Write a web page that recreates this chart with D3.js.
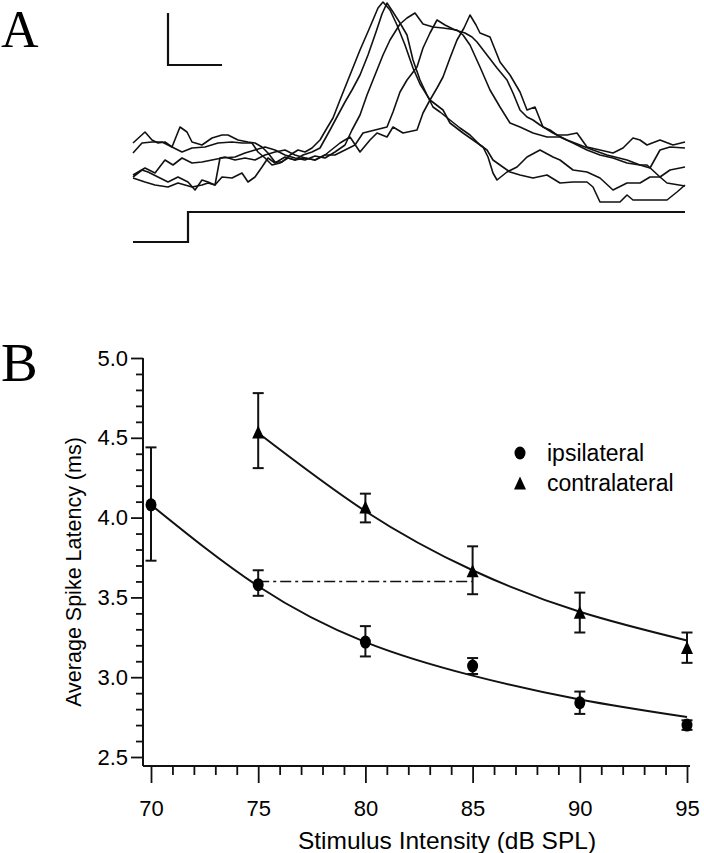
<!DOCTYPE html>
<html><head><meta charset="utf-8">
<script src="https://cdn.jsdelivr.net/npm/d3@7"></script>
<style>
html,body{margin:0;padding:0;background:#fff;}
svg{display:block;}
text{font-family:"Liberation Sans",Arial,sans-serif;fill:#000;}
</style></head>
<body>
<svg id="chart" width="704" height="853"></svg>
<script>
// ---------- Panel B data ----------
const intensities = [70, 75, 80, 85, 90, 95];
const ipsiMean = [4.08, 3.58, 3.22, 3.07, 2.84, 2.70];
const ipsiLow  = [3.73, 3.51, 3.13, 3.02, 2.77, 2.67];
const ipsiHigh = [4.44, 3.67, 3.32, 3.12, 2.91, 2.73];
const contraX    = [75, 80, 85, 90, 95];
const contraMean = [4.53, 4.06, 3.66, 3.40, 3.18];
const contraLow  = [4.31, 3.97, 3.52, 3.28, 3.09];
const contraHigh = [4.78, 4.15, 3.82, 3.53, 3.28];
// fitted curves
const ipsiFitX = [70, 75, 80, 85, 90, 95];
const ipsiFitY = [4.08, 3.57, 3.22, 3.01, 2.86, 2.75];
const contraFitX = [75, 80, 85, 90, 95];
const contraFitY = [4.53, 4.04, 3.67, 3.41, 3.23];
const refLineX = [75, 85];
const refLineY = 3.60;
const yMajor = [2.5, 3.0, 3.5, 4.0, 4.5, 5.0];
const xMajor = [70, 75, 80, 85, 90, 95];
const legendLabels = ["ipsilateral", "contralateral"];

// ---------- Panel A data (time in 0.1 ms units, amplitude arbitrary) ----------
const trace1 = [[0,107],[12,118],[19,110],[25,107],[32,108],[39,103],[47,123],[54,118],[59,108],[69,105],[79,112],[89,115],[95,115],[105,110],[115,108],[122,107],[129,103],[135,97],[142,88],[149,88],[157,95],[165,100],[172,98],[179,102],[187,110],[194,122],[200,132],[207,150],[217,175],[227,200],[237,223],[245,242],[250,248],[257,240],[264,225],[272,205],[280,182],[287,166],[297,150],[310,140],[317,127],[330,117],[340,110],[350,103],[355,93],[360,77],[364,70],[374,78],[384,83],[394,93],[407,100],[420,93],[427,90],[440,80],[454,78],[467,72],[480,60],[494,67],[507,67],[517,73],[527,73],[534,67],[552,64]];
const trace2 = [[0,97],[9,107],[19,108],[29,108],[39,103],[49,98],[59,102],[72,103],[85,107],[99,108],[109,107],[119,107],[125,98],[132,92],[139,85],[147,87],[155,92],[162,90],[170,95],[179,98],[187,102],[197,120],[205,135],[212,148],[219,160],[227,175],[235,195],[243,218],[249,236],[254,247],[260,238],[267,227],[274,215],[280,190],[287,170],[294,155],[300,143],[307,138],[317,130],[327,122],[337,115],[347,105],[354,100],[360,90],[367,85],[377,78],[387,75],[400,72],[414,75],[427,67],[440,68],[454,68],[460,63],[467,48],[487,48],[494,55],[500,50],[520,50],[534,50],[544,58],[552,65]];
const trace3 = [[0,75],[12,82],[22,77],[32,90],[40,85],[49,92],[59,87],[69,88],[79,90],[89,92],[102,93],[112,97],[122,100],[132,103],[142,100],[152,95],[162,92],[172,90],[182,94],[192,92],[202,98],[212,105],[219,120],[227,135],[234,155],[242,175],[250,195],[257,210],[267,226],[274,232],[282,237],[290,226],[300,223],[310,222],[324,220],[330,215],[337,205],[347,183],[357,160],[367,143],[377,127],[387,123],[400,117],[414,113],[427,113],[440,107],[454,100],[467,95],[480,92],[494,87],[507,85],[517,82],[527,100],[537,103],[552,102]];
const trace4 = [[0,73],[9,80],[15,78],[25,73],[35,68],[45,73],[55,68],[62,60],[69,70],[75,68],[82,65],[87,92],[92,93],[102,90],[112,92],[122,90],[132,95],[142,98],[152,100],[162,95],[172,92],[182,90],[192,95],[202,95],[212,100],[222,105],[230,117],[242,120],[254,123],[260,138],[267,158],[274,170],[284,183],[290,202],[297,217],[304,230],[312,225],[322,220],[332,217],[339,213],[344,208],[354,195],[364,182],[374,170],[380,157],[387,140],[394,133],[400,130],[407,125],[420,117],[434,110],[447,105],[460,100],[474,95],[494,90],[507,85],[514,85],[527,73],[537,80],[552,83]];
const trace5 = [[0,72],[12,68],[22,65],[35,63],[45,67],[59,63],[69,65],[75,67],[82,65],[89,73],[99,72],[109,77],[115,68],[122,73],[129,83],[135,92],[142,87],[152,93],[162,90],[172,92],[182,90],[192,95],[207,107],[217,113],[227,98],[237,110],[244,117],[254,113],[260,123],[270,117],[284,120],[290,137],[297,150],[304,162],[310,173],[317,192],[324,210],[331,222],[337,235],[343,225],[347,217],[357,213],[367,188],[377,175],[387,158],[394,140],[402,143],[410,123],[417,120],[424,115],[434,115],[444,117],[454,103],[467,100],[480,97],[490,102],[500,112],[507,110],[514,105],[527,110],[540,105],[552,108]];
const traces = [trace1, trace2, trace3, trace4, trace5];
const stimulus = [[0,8],[55,8],[55,38],[552,38]];
const scaleBar = [[35,237],[35,185],[89,185]];

const svg = d3.select("#chart");

// ---------- Panel A ----------
const xA = d3.scaleLinear().domain([0, 552]).range([133, 685]);
const yA = d3.scaleLinear().domain([0, 250]).range([250, 0]);
const lineA = d3.line().x(d => xA(d[0])).y(d => yA(d[1]));
const gA = svg.append("g");
gA.selectAll("path.trace").data(traces).enter().append("path")
  .attr("class", "trace").attr("d", lineA)
  .attr("fill", "none").attr("stroke", "#111").attr("stroke-width", 1.6)
  .attr("stroke-linejoin", "round");
gA.append("path").attr("d", lineA(stimulus)).attr("fill", "none")
  .attr("stroke", "#111").attr("stroke-width", 2.2);
gA.append("path").attr("d", lineA(scaleBar)).attr("fill", "none")
  .attr("stroke", "#111").attr("stroke-width", 2.2);
svg.append("text").attr("x", 1).attr("y", 47)
  .style("font-family", "'Liberation Serif','Times New Roman',serif")
  .style("font-size", "52px").text("A");

// ---------- Panel B ----------
svg.append("text").attr("x", 1).attr("y", 381)
  .style("font-family", "'Liberation Serif','Times New Roman',serif")
  .style("font-size", "55px").text("B");

const xB = d3.scaleLinear().domain([70, 95]).range([151, 687]);
const yB = d3.scaleLinear().domain([2.5, 5.0]).range([757, 358]);
const axisX0 = 143, axisY0 = 766;

const gB = svg.append("g");
// axis lines
gB.append("line").attr("x1", axisX0).attr("x2", axisX0)
  .attr("y1", yB(5.0)).attr("y2", axisY0).attr("stroke", "#111").attr("stroke-width", 2);
gB.append("line").attr("x1", axisX0).attr("x2", xB(95) + 3)
  .attr("y1", axisY0).attr("y2", axisY0).attr("stroke", "#111").attr("stroke-width", 2);

// y axis
const yMinor = d3.range(25, 51).map(d => d / 10).filter(d => !yMajor.includes(d));
const gy = gB.append("g").attr("transform", `translate(${axisX0},0)`);
gy.call(d3.axisLeft(yB).tickValues(yMinor).tickSize(7).tickFormat(""));
gy.append("g").call(d3.axisLeft(yB).tickValues(yMajor).tickSize(12).tickPadding(3).tickFormat(d3.format(".1f")));
gy.selectAll(".domain").remove();
gy.selectAll("line").attr("stroke", "#111").attr("stroke-width", 1.8);
gy.selectAll("text").style("font-size", "22px").style("font-family", "'Liberation Sans',Arial,sans-serif").attr("fill", "#000");

// x axis
const xMinor = d3.range(70, 96).filter(d => !xMajor.includes(d));
const gx = gB.append("g").attr("transform", `translate(0,${axisY0})`);
gx.call(d3.axisBottom(xB).tickValues(xMinor).tickSize(9).tickFormat(""));
gx.append("g").call(d3.axisBottom(xB).tickValues(xMajor).tickSize(17).tickPadding(17).tickFormat(d3.format("d")));
gx.selectAll(".domain").remove();
gx.selectAll("line").attr("stroke", "#111").attr("stroke-width", 1.8);
gx.selectAll("text").style("font-size", "22px").style("font-family", "'Liberation Sans',Arial,sans-serif").attr("fill", "#000");

// axis titles
gB.append("text").attr("x", 447).attr("y", 849)
  .attr("text-anchor", "middle").style("font-size", "24.5px")
  .text("Stimulus Intensity (dB SPL)");
gB.append("text").attr("transform", `translate(81,${572}) rotate(-90)`)
  .attr("text-anchor", "middle").style("font-size", "21.5px")
  .text("Average Spike Latency (ms)");

// fitted curves
const fitLine = d3.line().x(d => xB(d[0])).y(d => yB(d[1])).curve(d3.curveNatural);
gB.append("path").attr("d", fitLine(d3.zip(ipsiFitX, ipsiFitY)))
  .attr("fill", "none").attr("stroke", "#111").attr("stroke-width", 2);
gB.append("path").attr("d", fitLine(d3.zip(contraFitX, contraFitY)))
  .attr("fill", "none").attr("stroke", "#111").attr("stroke-width", 2);
// dash-dot reference
gB.append("line").attr("x1", xB(refLineX[0])).attr("x2", xB(refLineX[1]))
  .attr("y1", yB(refLineY)).attr("y2", yB(refLineY))
  .attr("stroke", "#111").attr("stroke-width", 1.6).attr("stroke-dasharray", "11,4,3,4");

// error bars
function errBars(xs, lo, hi) {
  const g = gB.append("g").attr("stroke", "#111").attr("stroke-width", 2).attr("fill", "none");
  xs.forEach((x, i) => {
    const cx = xB(x);
    g.append("line").attr("x1", cx).attr("x2", cx).attr("y1", yB(lo[i])).attr("y2", yB(hi[i]));
    g.append("line").attr("x1", cx - 5.5).attr("x2", cx + 5.5).attr("y1", yB(lo[i])).attr("y2", yB(lo[i]));
    g.append("line").attr("x1", cx - 5.5).attr("x2", cx + 5.5).attr("y1", yB(hi[i])).attr("y2", yB(hi[i]));
  });
}
errBars(intensities, ipsiLow, ipsiHigh);
errBars(contraX, contraLow, contraHigh);

// markers
gB.selectAll("ellipse.ipsi").data(d3.zip(intensities, ipsiMean)).enter().append("ellipse")
  .attr("class", "ipsi").attr("cx", d => xB(d[0])).attr("cy", d => yB(d[1]))
  .attr("rx", 5.5).attr("ry", 6.5).attr("fill", "#000");
const tri = (cx, cy) => `M${cx},${cy - 7.5}L${cx + 6},${cy + 5.5}L${cx - 6},${cy + 5.5}Z`;
gB.selectAll("path.contra").data(d3.zip(contraX, contraMean)).enter().append("path")
  .attr("class", "contra").attr("d", d => tri(xB(d[0]), yB(d[1]))).attr("fill", "#000");

// legend
const lg = gB.append("g");
lg.append("ellipse").attr("cx", 520).attr("cy", 453).attr("rx", 5.5).attr("ry", 6.5).attr("fill", "#000");
lg.append("path").attr("d", tri(520, 484)).attr("fill", "#000");
lg.selectAll("text").data(legendLabels).enter().append("text")
  .attr("x", 547).attr("y", (d, i) => 461 + i * 30)
  .style("font-size", "23px").text(d => d);
</script>
</body></html>
